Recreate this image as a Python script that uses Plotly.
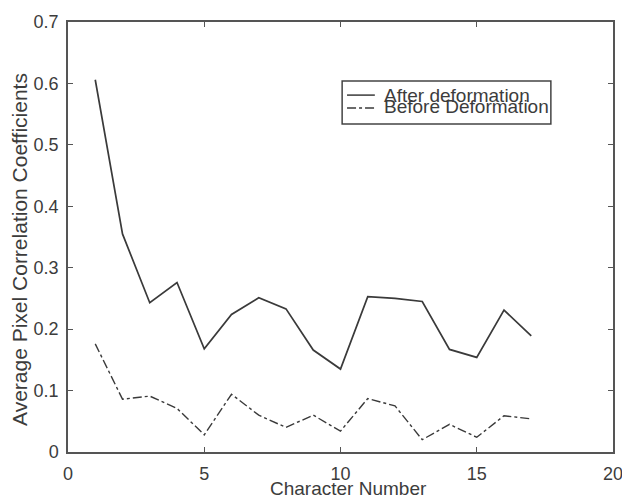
import plotly.graph_objects as go

char_num = list(range(1, 18))
after_def = [0.606, 0.355, 0.243, 0.276, 0.168, 0.224, 0.251, 0.233, 0.166, 0.135,
             0.253, 0.250, 0.245, 0.167, 0.154, 0.231, 0.189]
before_def = [0.176, 0.086, 0.091, 0.071, 0.028, 0.094, 0.060, 0.040, 0.060, 0.034,
              0.087, 0.075, 0.020, 0.045, 0.024, 0.059, 0.054]
legend_labels = ["After deformation", "Before Deformation"]
x_title = "Character Number"
y_title = "Average Pixel Correlation Coefficients"
x_ticks = [0, 5, 10, 15, 20]
y_ticks = [0, 0.1, 0.2, 0.3, 0.4, 0.5, 0.6, 0.7]

FONT = "Liberation Sans, Arial, sans-serif"
LC = "#3a3a3a"
TC = "#3c3c3c"

fig = go.Figure()
fig.add_trace(go.Scatter(x=char_num, y=after_def, mode="lines",
                         line=dict(color=LC, width=1.7), name=legend_labels[0]))
fig.add_trace(go.Scatter(x=char_num, y=before_def, mode="lines",
                         line=dict(color=LC, width=1.4, dash="dashdot"), name=legend_labels[1]))

axis_common = dict(showgrid=False, zeroline=False, showline=True, linecolor="#555",
                   linewidth=1.5, mirror="ticks", ticks="inside", ticklen=5,
                   tickcolor="#555", automargin=False, ticklabeloverflow="allow",
                   tickfont=dict(family=FONT, size=18, color=TC))

fig.update_layout(
    width=622, height=499,
    margin=dict(l=68, r=9, t=22, b=47),
    paper_bgcolor="white", plot_bgcolor="white",
    showlegend=False,
    xaxis=dict(range=[0, 20], tickvals=x_ticks, ticktext=[str(v) for v in x_ticks],
               ticklabelstandoff=5, **axis_common),
    yaxis=dict(range=[0, 0.7], tickvals=y_ticks,
               ticktext=["0"] + [f"{v:.1f}" for v in y_ticks[1:]],
               ticklabelstandoff=4, **axis_common),
)

# axis titles
fig.add_annotation(xref="paper", yref="paper", x=0.514, y=-0.084, text=x_title, showarrow=False,
                   xanchor="center", yanchor="middle", font=dict(family=FONT, size=19, color=TC))
fig.add_annotation(xref="paper", yref="paper", x=-0.090, y=0.472, text=y_title, showarrow=False,
                   textangle=-90, xanchor="center", yanchor="middle",
                   font=dict(family=FONT, size=21, color=TC))

# custom legend box
fig.add_shape(type="rect", xref="paper", yref="paper", x0=0.503, x1=0.886, y0=0.763, y1=0.863,
              line=dict(color="#444", width=1.5), fillcolor="white")
fig.add_shape(type="line", xref="paper", yref="paper", x0=0.512, x1=0.563, y0=0.830, y1=0.830,
              line=dict(color=LC, width=1.5))
fig.add_shape(type="line", xref="paper", yref="paper", x0=0.512, x1=0.563, y0=0.800, y1=0.800,
              line=dict(color=LC, width=1.5, dash="dashdot"))
for lbl, yy in zip(legend_labels, [0.828, 0.803]):
    fig.add_annotation(xref="paper", yref="paper", x=0.576, y=yy, text=lbl, showarrow=False,
                       xanchor="left", yanchor="middle",
                       font=dict(family=FONT, size=19, color=TC))

fig.write_html("out.html")
